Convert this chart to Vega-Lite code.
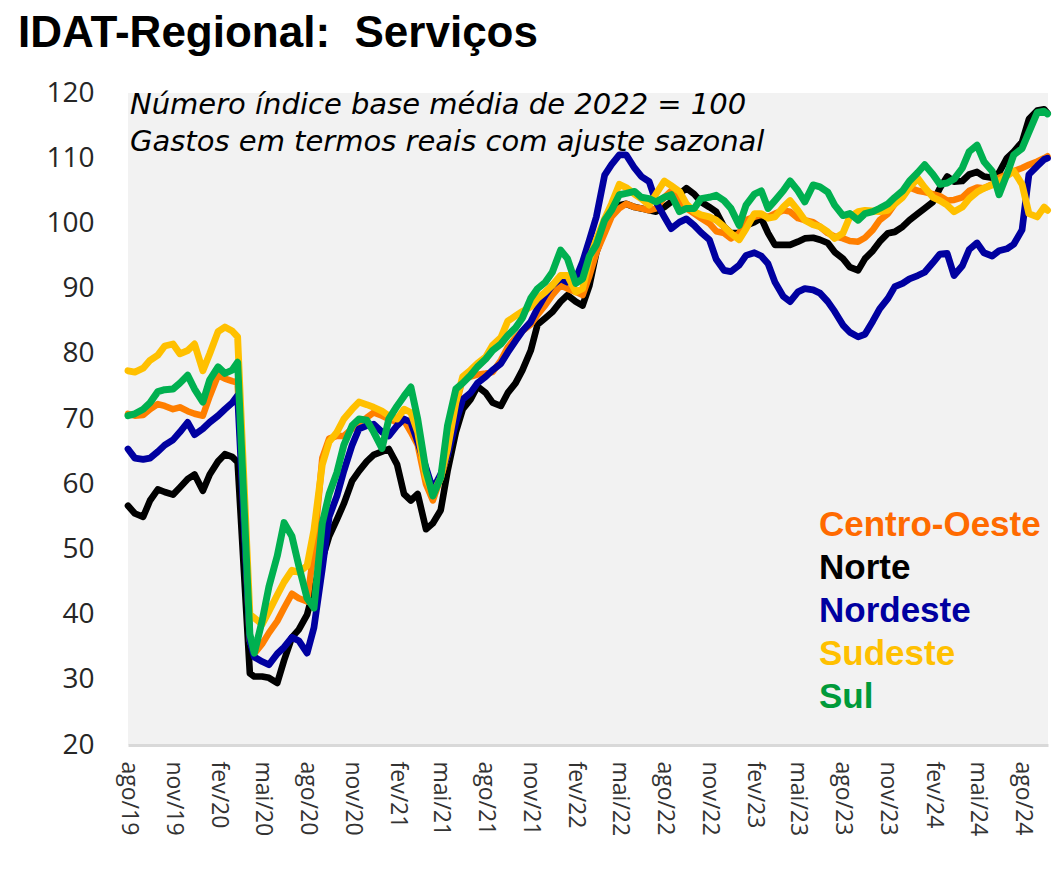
{
  "$schema": "https://vega.github.io/schema/vega-lite/v6.json",
  "width": 920,
  "height": 652,
  "autosize": {"type": "none"},
  "padding": {"left": 128, "top": 93, "right": 8, "bottom": 142},
  "background": "white",
  "config": {"view": {"fill": "#f2f2f2", "stroke": null}, "font": "Open Sans"},
  "title": {
    "text": "IDAT-Regional:\u00a0 Serviços",
    "anchor": "start",
    "frame": "group",
    "font": "Liberation Sans",
    "fontSize": 44,
    "fontWeight": "bold",
    "color": "#000000",
    "baseline": "alphabetic",
    "dx": -110,
    "dy": 35,
    "offset": 23
  },
  "data": {
    "values": [
      {"d": "2019-08-01", "Centro-Oeste": 70.8, "Norte": 56.7, "Nordeste": 65.4, "Sudeste": 77.4, "Sul": 70.5},
      {"d": "2019-08-15", "Centro-Oeste": 70.5, "Norte": 55.5, "Nordeste": 64.0, "Sudeste": 77.2, "Sul": 70.8},
      {"d": "2019-09-01", "Centro-Oeste": 70.6, "Norte": 55.0, "Nordeste": 63.8, "Sudeste": 77.8, "Sul": 71.5},
      {"d": "2019-09-15", "Centro-Oeste": 71.5, "Norte": 57.5, "Nordeste": 64.0, "Sudeste": 79.0, "Sul": 72.5},
      {"d": "2019-10-01", "Centro-Oeste": 72.3, "Norte": 59.2, "Nordeste": 65.0, "Sudeste": 79.8, "Sul": 74.2},
      {"d": "2019-10-15", "Centro-Oeste": 72.0, "Norte": 58.8, "Nordeste": 66.0, "Sudeste": 81.2, "Sul": 74.5},
      {"d": "2019-11-01", "Centro-Oeste": 71.5, "Norte": 58.4, "Nordeste": 66.8, "Sudeste": 81.5, "Sul": 74.6},
      {"d": "2019-11-15", "Centro-Oeste": 71.8, "Norte": 59.5, "Nordeste": 68.0, "Sudeste": 80.0, "Sul": 75.5},
      {"d": "2019-12-01", "Centro-Oeste": 71.2, "Norte": 60.8, "Nordeste": 69.5, "Sudeste": 80.5, "Sul": 76.7},
      {"d": "2019-12-15", "Centro-Oeste": 70.8, "Norte": 61.5, "Nordeste": 67.6, "Sudeste": 81.5, "Sul": 74.6},
      {"d": "2020-01-01", "Centro-Oeste": 70.5, "Norte": 59.0, "Nordeste": 68.5, "Sudeste": 77.4, "Sul": 72.6},
      {"d": "2020-01-15", "Centro-Oeste": 73.5, "Norte": 61.5, "Nordeste": 69.5, "Sudeste": 80.0, "Sul": 76.0},
      {"d": "2020-02-01", "Centro-Oeste": 76.7, "Norte": 63.5, "Nordeste": 70.5, "Sudeste": 83.4, "Sul": 78.0},
      {"d": "2020-02-15", "Centro-Oeste": 76.2, "Norte": 64.6, "Nordeste": 71.5, "Sudeste": 84.1, "Sul": 77.0},
      {"d": "2020-03-01", "Centro-Oeste": 75.8, "Norte": 64.2, "Nordeste": 72.5, "Sudeste": 83.5, "Sul": 77.5},
      {"d": "2020-03-12", "Centro-Oeste": 75.6, "Norte": 63.4, "Nordeste": 73.6, "Sudeste": 82.6, "Sul": 78.7},
      {"d": "2020-04-06", "Centro-Oeste": 36.0, "Norte": 31.0, "Nordeste": 36.0, "Sudeste": 40.0, "Sul": 37.0},
      {"d": "2020-04-15", "Centro-Oeste": 34.0, "Norte": 30.5, "Nordeste": 33.5, "Sudeste": 39.5, "Sul": 34.1},
      {"d": "2020-05-01", "Centro-Oeste": 35.5, "Norte": 30.5, "Nordeste": 32.8, "Sudeste": 38.5, "Sul": 39.0},
      {"d": "2020-05-15", "Centro-Oeste": 37.2, "Norte": 30.3, "Nordeste": 32.3, "Sudeste": 40.5, "Sul": 44.3},
      {"d": "2020-06-01", "Centro-Oeste": 39.0, "Norte": 29.5, "Nordeste": 34.0, "Sudeste": 43.0, "Sul": 49.0},
      {"d": "2020-06-15", "Centro-Oeste": 41.0, "Norte": 33.0, "Nordeste": 35.0, "Sudeste": 45.0, "Sul": 54.1},
      {"d": "2020-07-01", "Centro-Oeste": 43.2, "Norte": 36.5, "Nordeste": 36.5, "Sudeste": 46.8, "Sul": 52.0},
      {"d": "2020-07-15", "Centro-Oeste": 42.5, "Norte": 37.7, "Nordeste": 36.0, "Sudeste": 46.5, "Sul": 47.5},
      {"d": "2020-08-01", "Centro-Oeste": 42.0, "Norte": 40.0, "Nordeste": 34.1, "Sudeste": 47.5, "Sul": 42.5},
      {"d": "2020-08-15", "Centro-Oeste": 50.0, "Norte": 44.0, "Nordeste": 38.0, "Sudeste": 53.0, "Sul": 41.0},
      {"d": "2020-09-01", "Centro-Oeste": 64.0, "Norte": 48.5, "Nordeste": 47.0, "Sudeste": 63.0, "Sul": 54.0},
      {"d": "2020-09-15", "Centro-Oeste": 67.0, "Norte": 52.0, "Nordeste": 55.0, "Sudeste": 66.5, "Sul": 58.5},
      {"d": "2020-10-01", "Centro-Oeste": 67.4, "Norte": 54.6, "Nordeste": 58.2, "Sudeste": 68.0, "Sul": 61.8},
      {"d": "2020-10-15", "Centro-Oeste": 67.4, "Norte": 57.0, "Nordeste": 62.0, "Sudeste": 70.0, "Sul": 66.0},
      {"d": "2020-11-01", "Centro-Oeste": 68.5, "Norte": 60.5, "Nordeste": 66.0, "Sudeste": 71.5, "Sul": 69.0},
      {"d": "2020-11-15", "Centro-Oeste": 69.5, "Norte": 62.0, "Nordeste": 68.5, "Sudeste": 72.6, "Sul": 70.0},
      {"d": "2020-12-01", "Centro-Oeste": 70.2, "Norte": 63.5, "Nordeste": 69.0, "Sudeste": 72.2, "Sul": 69.8},
      {"d": "2020-12-15", "Centro-Oeste": 71.0, "Norte": 64.5, "Nordeste": 69.2, "Sudeste": 71.8, "Sul": 68.0},
      {"d": "2021-01-01", "Centro-Oeste": 70.5, "Norte": 65.0, "Nordeste": 68.0, "Sudeste": 71.2, "Sul": 65.5},
      {"d": "2021-01-15", "Centro-Oeste": 70.0, "Norte": 65.4, "Nordeste": 67.4, "Sudeste": 70.5, "Sul": 70.0},
      {"d": "2021-02-01", "Centro-Oeste": 69.5, "Norte": 63.0, "Nordeste": 69.0, "Sudeste": 70.0, "Sul": 72.0},
      {"d": "2021-02-15", "Centro-Oeste": 69.8, "Norte": 58.5, "Nordeste": 70.0, "Sudeste": 71.5, "Sul": 73.5},
      {"d": "2021-03-01", "Centro-Oeste": 68.0, "Norte": 57.5, "Nordeste": 69.5, "Sudeste": 71.0, "Sul": 74.9},
      {"d": "2021-03-15", "Centro-Oeste": 66.0, "Norte": 58.5, "Nordeste": 66.5, "Sudeste": 68.0, "Sul": 70.0},
      {"d": "2021-04-01", "Centro-Oeste": 60.0, "Norte": 53.1, "Nordeste": 62.5, "Sudeste": 61.0, "Sul": 62.0},
      {"d": "2021-04-15", "Centro-Oeste": 57.5, "Norte": 54.0, "Nordeste": 59.2, "Sudeste": 58.5, "Sul": 58.2},
      {"d": "2021-05-01", "Centro-Oeste": 61.0, "Norte": 56.0, "Nordeste": 61.5, "Sudeste": 61.0, "Sul": 61.0},
      {"d": "2021-05-15", "Centro-Oeste": 64.5, "Norte": 62.0, "Nordeste": 64.4, "Sudeste": 65.4, "Sul": 69.0},
      {"d": "2021-06-01", "Centro-Oeste": 72.0, "Norte": 68.0, "Nordeste": 69.5, "Sudeste": 72.5, "Sul": 74.6},
      {"d": "2021-06-15", "Centro-Oeste": 76.2, "Norte": 71.5, "Nordeste": 73.0, "Sudeste": 76.5, "Sul": 75.5},
      {"d": "2021-07-01", "Centro-Oeste": 76.5, "Norte": 73.0, "Nordeste": 74.0, "Sudeste": 77.5, "Sul": 76.7},
      {"d": "2021-07-15", "Centro-Oeste": 76.8, "Norte": 75.0, "Nordeste": 75.5, "Sudeste": 78.5, "Sul": 78.0},
      {"d": "2021-08-01", "Centro-Oeste": 77.0, "Norte": 74.0, "Nordeste": 76.5, "Sudeste": 79.5, "Sul": 79.2},
      {"d": "2021-08-15", "Centro-Oeste": 77.2, "Norte": 72.5, "Nordeste": 77.5, "Sudeste": 81.3, "Sul": 80.5},
      {"d": "2021-09-01", "Centro-Oeste": 79.0, "Norte": 72.0, "Nordeste": 78.5, "Sudeste": 82.5, "Sul": 81.5},
      {"d": "2021-09-15", "Centro-Oeste": 81.0, "Norte": 74.0, "Nordeste": 80.2, "Sudeste": 85.0, "Sul": 82.8},
      {"d": "2021-10-01", "Centro-Oeste": 82.5, "Norte": 75.5, "Nordeste": 82.0, "Sudeste": 85.8, "Sul": 84.0},
      {"d": "2021-10-15", "Centro-Oeste": 83.5, "Norte": 77.5, "Nordeste": 83.5, "Sudeste": 86.5, "Sul": 85.5},
      {"d": "2021-11-01", "Centro-Oeste": 84.5, "Norte": 80.5, "Nordeste": 84.9, "Sudeste": 87.2, "Sul": 88.5},
      {"d": "2021-11-15", "Centro-Oeste": 86.0, "Norte": 84.5, "Nordeste": 87.0, "Sudeste": 88.5, "Sul": 90.0},
      {"d": "2021-12-01", "Centro-Oeste": 87.5, "Norte": 85.5, "Nordeste": 89.0, "Sudeste": 89.5, "Sul": 91.0},
      {"d": "2021-12-15", "Centro-Oeste": 89.0, "Norte": 86.4, "Nordeste": 90.5, "Sudeste": 90.5, "Sul": 92.5},
      {"d": "2022-01-01", "Centro-Oeste": 90.5, "Norte": 88.0, "Nordeste": 91.5, "Sudeste": 92.0, "Sul": 95.9},
      {"d": "2022-01-15", "Centro-Oeste": 90.0, "Norte": 89.0, "Nordeste": 91.0, "Sudeste": 92.0, "Sul": 94.6},
      {"d": "2022-02-01", "Centro-Oeste": 89.5, "Norte": 88.0, "Nordeste": 91.5, "Sudeste": 89.5, "Sul": 90.8},
      {"d": "2022-02-15", "Centro-Oeste": 89.0, "Norte": 87.4, "Nordeste": 94.1, "Sudeste": 90.0, "Sul": 91.5},
      {"d": "2022-03-01", "Centro-Oeste": 92.0, "Norte": 90.5, "Nordeste": 97.5, "Sudeste": 94.6, "Sul": 95.0},
      {"d": "2022-03-15", "Centro-Oeste": 95.5, "Norte": 95.5, "Nordeste": 101.0, "Sudeste": 97.5, "Sul": 96.7},
      {"d": "2022-04-01", "Centro-Oeste": 98.5, "Norte": 99.2, "Nordeste": 107.4, "Sudeste": 100.7, "Sul": 100.5},
      {"d": "2022-04-15", "Centro-Oeste": 101.0, "Norte": 101.5, "Nordeste": 109.0, "Sudeste": 103.0, "Sul": 102.0},
      {"d": "2022-05-01", "Centro-Oeste": 102.3, "Norte": 102.8, "Nordeste": 110.5, "Sudeste": 106.0, "Sul": 104.4},
      {"d": "2022-05-15", "Centro-Oeste": 103.0, "Norte": 103.0, "Nordeste": 110.5, "Sudeste": 105.5, "Sul": 104.6},
      {"d": "2022-06-01", "Centro-Oeste": 102.5, "Norte": 102.5, "Nordeste": 108.5, "Sudeste": 104.5, "Sul": 104.9},
      {"d": "2022-06-15", "Centro-Oeste": 102.3, "Norte": 102.3, "Nordeste": 107.2, "Sudeste": 103.8, "Sul": 104.0},
      {"d": "2022-07-01", "Centro-Oeste": 102.0, "Norte": 102.0, "Nordeste": 106.4, "Sudeste": 102.8, "Sul": 103.8},
      {"d": "2022-07-15", "Centro-Oeste": 102.3, "Norte": 101.8, "Nordeste": 103.3, "Sudeste": 104.5, "Sul": 103.3},
      {"d": "2022-08-01", "Centro-Oeste": 104.0, "Norte": 102.5, "Nordeste": 101.0, "Sudeste": 106.5, "Sul": 104.0},
      {"d": "2022-08-15", "Centro-Oeste": 105.0, "Norte": 103.3, "Nordeste": 99.2, "Sudeste": 105.8, "Sul": 104.4},
      {"d": "2022-09-01", "Centro-Oeste": 103.5, "Norte": 104.5, "Nordeste": 100.2, "Sudeste": 104.9, "Sul": 101.8},
      {"d": "2022-09-15", "Centro-Oeste": 102.3, "Norte": 105.4, "Nordeste": 100.7, "Sudeste": 103.0, "Sul": 102.3},
      {"d": "2022-10-01", "Centro-Oeste": 101.5, "Norte": 104.5, "Nordeste": 99.7, "Sudeste": 101.8, "Sul": 102.3},
      {"d": "2022-10-15", "Centro-Oeste": 100.8, "Norte": 103.3, "Nordeste": 98.6, "Sudeste": 101.3, "Sul": 103.8},
      {"d": "2022-11-01", "Centro-Oeste": 100.0, "Norte": 102.5, "Nordeste": 97.5, "Sudeste": 101.0, "Sul": 104.0},
      {"d": "2022-11-15", "Centro-Oeste": 98.8, "Norte": 101.8, "Nordeste": 94.5, "Sudeste": 100.5, "Sul": 104.3},
      {"d": "2022-12-01", "Centro-Oeste": 98.5, "Norte": 99.5, "Nordeste": 92.8, "Sudeste": 99.5, "Sul": 103.5},
      {"d": "2022-12-15", "Centro-Oeste": 97.7, "Norte": 98.5, "Nordeste": 92.6, "Sudeste": 98.5, "Sul": 102.3},
      {"d": "2023-01-01", "Centro-Oeste": 98.5, "Norte": 98.5, "Nordeste": 93.6, "Sudeste": 97.5, "Sul": 99.7},
      {"d": "2023-01-15", "Centro-Oeste": 100.5, "Norte": 99.7, "Nordeste": 95.1, "Sudeste": 99.2, "Sul": 102.8},
      {"d": "2023-02-01", "Centro-Oeste": 101.0, "Norte": 100.2, "Nordeste": 95.5, "Sudeste": 101.5, "Sul": 104.5},
      {"d": "2023-02-15", "Centro-Oeste": 101.3, "Norte": 100.8, "Nordeste": 95.0, "Sudeste": 101.5, "Sul": 105.0},
      {"d": "2023-03-01", "Centro-Oeste": 101.0, "Norte": 98.5, "Nordeste": 93.8, "Sudeste": 100.8, "Sul": 102.3},
      {"d": "2023-03-15", "Centro-Oeste": 101.5, "Norte": 96.7, "Nordeste": 91.0, "Sudeste": 101.0, "Sul": 103.5},
      {"d": "2023-04-01", "Centro-Oeste": 102.0, "Norte": 96.7, "Nordeste": 88.8, "Sudeste": 102.5, "Sul": 105.0},
      {"d": "2023-04-15", "Centro-Oeste": 101.8, "Norte": 96.7, "Nordeste": 88.0, "Sudeste": 103.5, "Sul": 106.5},
      {"d": "2023-05-01", "Centro-Oeste": 100.8, "Norte": 97.2, "Nordeste": 89.5, "Sudeste": 102.0, "Sul": 105.0},
      {"d": "2023-05-15", "Centro-Oeste": 100.5, "Norte": 97.7, "Nordeste": 90.0, "Sudeste": 100.5, "Sul": 103.3},
      {"d": "2023-06-01", "Centro-Oeste": 100.2, "Norte": 97.8, "Nordeste": 89.8, "Sudeste": 99.8, "Sul": 105.9},
      {"d": "2023-06-15", "Centro-Oeste": 99.5, "Norte": 97.5, "Nordeste": 89.3, "Sudeste": 99.5, "Sul": 105.6},
      {"d": "2023-07-01", "Centro-Oeste": 98.5, "Norte": 97.0, "Nordeste": 88.0, "Sudeste": 98.7, "Sul": 104.8},
      {"d": "2023-07-15", "Centro-Oeste": 98.0, "Norte": 95.6, "Nordeste": 86.5, "Sudeste": 97.7, "Sul": 102.8},
      {"d": "2023-08-01", "Centro-Oeste": 97.7, "Norte": 94.6, "Nordeste": 84.4, "Sudeste": 98.5, "Sul": 101.2},
      {"d": "2023-08-15", "Centro-Oeste": 97.3, "Norte": 93.3, "Nordeste": 83.3, "Sudeste": 101.0, "Sul": 101.5},
      {"d": "2023-09-01", "Centro-Oeste": 97.2, "Norte": 92.8, "Nordeste": 82.6, "Sudeste": 101.8, "Sul": 100.5},
      {"d": "2023-09-15", "Centro-Oeste": 97.8, "Norte": 94.6, "Nordeste": 83.0, "Sudeste": 102.0, "Sul": 101.5},
      {"d": "2023-10-01", "Centro-Oeste": 99.0, "Norte": 95.8, "Nordeste": 85.0, "Sudeste": 101.9, "Sul": 101.8},
      {"d": "2023-10-15", "Centro-Oeste": 100.5, "Norte": 97.2, "Nordeste": 86.9, "Sudeste": 101.8, "Sul": 102.3},
      {"d": "2023-11-01", "Centro-Oeste": 101.5, "Norte": 98.5, "Nordeste": 88.5, "Sudeste": 102.0, "Sul": 103.0},
      {"d": "2023-11-15", "Centro-Oeste": 103.0, "Norte": 98.7, "Nordeste": 90.3, "Sudeste": 103.0, "Sul": 104.0},
      {"d": "2023-12-01", "Centro-Oeste": 104.2, "Norte": 99.5, "Nordeste": 90.8, "Sudeste": 104.0, "Sul": 105.0},
      {"d": "2023-12-15", "Centro-Oeste": 105.5, "Norte": 100.5, "Nordeste": 91.5, "Sudeste": 105.5, "Sul": 106.5},
      {"d": "2024-01-01", "Centro-Oeste": 105.0, "Norte": 101.5, "Nordeste": 92.0, "Sudeste": 106.9, "Sul": 107.8},
      {"d": "2024-01-15", "Centro-Oeste": 104.8, "Norte": 102.3, "Nordeste": 92.5, "Sudeste": 105.5, "Sul": 109.0},
      {"d": "2024-02-01", "Centro-Oeste": 104.5, "Norte": 103.3, "Nordeste": 94.0, "Sudeste": 104.0, "Sul": 107.5},
      {"d": "2024-02-15", "Centro-Oeste": 104.2, "Norte": 105.4, "Nordeste": 95.3, "Sudeste": 103.5, "Sul": 106.0},
      {"d": "2024-03-01", "Centro-Oeste": 103.5, "Norte": 107.2, "Nordeste": 95.4, "Sudeste": 102.8, "Sul": 106.2},
      {"d": "2024-03-15", "Centro-Oeste": 103.6, "Norte": 106.4, "Nordeste": 92.0, "Sudeste": 101.8, "Sul": 106.8},
      {"d": "2024-04-01", "Centro-Oeste": 104.0, "Norte": 106.5, "Nordeste": 93.5, "Sudeste": 102.5, "Sul": 108.5},
      {"d": "2024-04-15", "Centro-Oeste": 105.0, "Norte": 107.5, "Nordeste": 96.0, "Sudeste": 103.8, "Sul": 111.0},
      {"d": "2024-05-01", "Centro-Oeste": 105.5, "Norte": 107.9, "Nordeste": 97.0, "Sudeste": 104.8, "Sul": 112.0},
      {"d": "2024-05-15", "Centro-Oeste": 105.4, "Norte": 107.2, "Nordeste": 95.5, "Sudeste": 105.4, "Sul": 109.5},
      {"d": "2024-06-01", "Centro-Oeste": 106.0, "Norte": 107.0, "Nordeste": 95.0, "Sudeste": 105.9, "Sul": 108.0},
      {"d": "2024-06-15", "Centro-Oeste": 107.0, "Norte": 107.8, "Nordeste": 95.8, "Sudeste": 106.5, "Sul": 104.4},
      {"d": "2024-07-01", "Centro-Oeste": 107.5, "Norte": 110.0, "Nordeste": 96.1, "Sudeste": 107.3, "Sul": 107.5},
      {"d": "2024-07-15", "Centro-Oeste": 108.0, "Norte": 111.0, "Nordeste": 96.8, "Sudeste": 108.0, "Sul": 110.5},
      {"d": "2024-08-01", "Centro-Oeste": 108.5, "Norte": 112.5, "Nordeste": 99.0, "Sudeste": 106.0, "Sul": 111.5},
      {"d": "2024-08-15", "Centro-Oeste": 109.0, "Norte": 116.0, "Nordeste": 107.5, "Sudeste": 101.5, "Sul": 114.0},
      {"d": "2024-09-01", "Centro-Oeste": 109.5, "Norte": 117.3, "Nordeste": 108.8, "Sudeste": 101.0, "Sul": 117.0},
      {"d": "2024-09-15", "Centro-Oeste": 110.0, "Norte": 117.5, "Nordeste": 109.8, "Sudeste": 102.5, "Sul": 117.2},
      {"d": "2024-09-22", "Centro-Oeste": 110.3, "Norte": 116.9, "Nordeste": 110.0, "Sudeste": 102.0, "Sul": 116.8}
    ]
  },
  "layer": [
    {
      "transform": [{"fold": ["Norte", "Centro-Oeste", "Nordeste", "Sudeste", "Sul"], "as": ["regiao", "valor"]}],
      "mark": {"type": "line", "strokeJoin": "round", "strokeCap": "round"},
      "encoding": {
        "x": {
          "field": "d",
          "type": "temporal",
          "scale": {"type": "utc", "domain": [{"year": 2019, "month": 8, "date": 1, "utc": true}, {"year": 2024, "month": 9, "date": 23, "utc": true}]},
          "axis": {
            "title": null,
            "grid": false,
            "ticks": false,
            "domainColor": "#d9d9d9",
            "domainWidth": 3,
            "labelAngle": 90,
            "labelAlign": "left",
            "labelBaseline": "middle",
            "labelFont": "Open Sans",
            "labelFontSize": 23,
            "labelColor": "#333333",
            "labelPadding": 16,
            "labelOverlap": false,
            "labelBound": false,
            "labelFlush": false,
            "values": [
              {"year": 2019, "month": 8, "date": 1, "utc": true},
              {"year": 2019, "month": 11, "date": 1, "utc": true},
              {"year": 2020, "month": 2, "date": 1, "utc": true},
              {"year": 2020, "month": 5, "date": 1, "utc": true},
              {"year": 2020, "month": 8, "date": 1, "utc": true},
              {"year": 2020, "month": 11, "date": 1, "utc": true},
              {"year": 2021, "month": 2, "date": 1, "utc": true},
              {"year": 2021, "month": 5, "date": 1, "utc": true},
              {"year": 2021, "month": 8, "date": 1, "utc": true},
              {"year": 2021, "month": 11, "date": 1, "utc": true},
              {"year": 2022, "month": 2, "date": 1, "utc": true},
              {"year": 2022, "month": 5, "date": 1, "utc": true},
              {"year": 2022, "month": 8, "date": 1, "utc": true},
              {"year": 2022, "month": 11, "date": 1, "utc": true},
              {"year": 2023, "month": 2, "date": 1, "utc": true},
              {"year": 2023, "month": 5, "date": 1, "utc": true},
              {"year": 2023, "month": 8, "date": 1, "utc": true},
              {"year": 2023, "month": 11, "date": 1, "utc": true},
              {"year": 2024, "month": 2, "date": 1, "utc": true},
              {"year": 2024, "month": 5, "date": 1, "utc": true},
              {"year": 2024, "month": 8, "date": 1, "utc": true}
            ],
            "labelExpr": "['jan','fev','mar','abr','mai','jun','jul','ago','set','out','nov','dez'][utcmonth(datum.value)] + '/' + utcFormat(datum.value, '%y')"
          }
        },
        "y": {
          "field": "valor",
          "type": "quantitative",
          "scale": {"domain": [20, 120], "nice": false, "zero": false},
          "axis": {
            "title": null,
            "grid": false,
            "ticks": false,
            "domain": false,
            "values": [20, 30, 40, 50, 60, 70, 80, 90, 100, 110, 120],
            "labelFont": "Open Sans",
            "labelFontSize": 28,
            "labelColor": "#262626",
            "labelPadding": 34
          }
        },
        "color": {
          "field": "regiao",
          "type": "nominal",
          "scale": {
            "domain": ["Centro-Oeste", "Norte", "Nordeste", "Sudeste", "Sul"],
            "range": ["#ff7f00", "#000000", "#0000a0", "#ffc000", "#00b050"]
          },
          "legend": {
            "title": null,
            "orient": "none",
            "legendX": 656,
            "legendY": 414,
            "symbolSize": 0,
            "symbolStrokeWidth": 0,
            "symbolOpacity": 0,
            "symbolOffset": 0,
            "labelOffset": 0,
            "labelFont": "Liberation Sans",
            "labelFontSize": 35,
            "labelFontWeight": "bold",
            "labelLimit": 400,
            "rowPadding": 7,
            "labelColor": {"expr": "datum.value == 'Centro-Oeste' ? '#ff6a00' : datum.value == 'Sul' ? '#009a3a' : scale('color', datum.value)"}
          }
        },
        "strokeWidth": {
          "field": "regiao",
          "type": "nominal",
          "scale": {"domain": ["Centro-Oeste", "Norte", "Nordeste", "Sudeste", "Sul"], "range": [6.5, 7, 4, 4.5, 4.5]},
          "legend": null
        }
      }
    },
    {
      "data": {"values": [{}]},
      "mark": {"type": "text", "align": "left", "baseline": "top", "font": "DejaVu Sans", "fontStyle": "italic", "fontSize": 29, "lineBreak": "\n", "lineHeight": 37, "color": "#000000", "dx": 2, "dy": -2},
      "encoding": {
        "x": {"datum": {"year": 2019, "month": 8, "date": 1, "utc": true}, "type": "temporal"},
        "y": {"datum": 120, "type": "quantitative"},
        "text": {"value": "Número índice base média de 2022 = 100\nGastos em termos reais com ajuste sazonal"}
      }
    }
  ]
}
